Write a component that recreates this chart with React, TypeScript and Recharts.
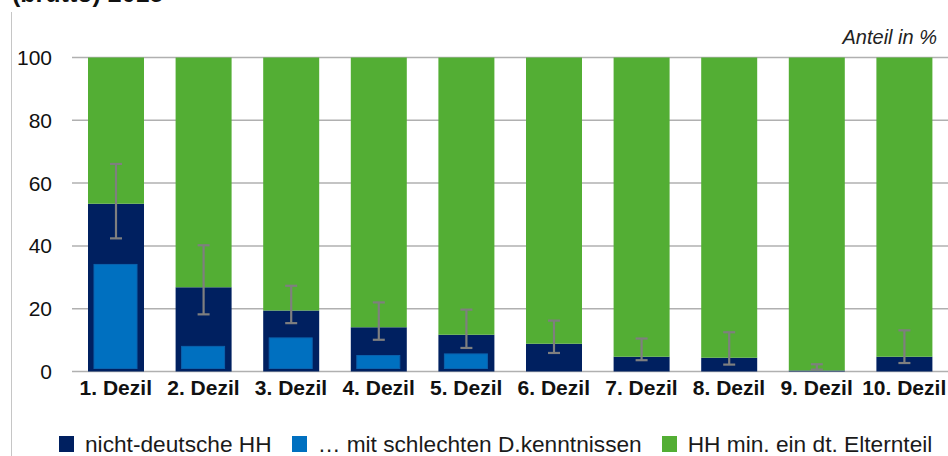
import React from 'react';
import { BarChart, Bar, XAxis, YAxis, CartesianGrid, ErrorBar, Legend } from 'recharts';

const categories = ['1. Dezil', '2. Dezil', '3. Dezil', '4. Dezil', '5. Dezil', '6. Dezil', '7. Dezil', '8. Dezil', '9. Dezil', '10. Dezil'];
const nonGerman = [53.4, 26.8, 19.4, 14.1, 11.7, 8.8, 4.7, 4.4, 0.3, 4.7];
const poorGerman = [34.1, 8.0, 10.7, 5.1, 5.6, 0, 0, 0, 0, 0];
const germanParent = [46.6, 73.2, 80.6, 85.9, 88.3, 91.2, 95.3, 95.6, 99.7, 95.3];
const ciLow = [42.4, 18.2, 15.4, 10.1, 7.5, 5.9, 3.6, 2.2, 0.6, 2.7];
const ciHigh = [66.1, 40.2, 27.3, 22.0, 19.7, 16.2, 10.5, 12.5, 2.3, 13.1];
const yTicks = [0, 20, 40, 60, 80, 100];

const legendItems = [
  { label: 'nicht-deutsche HH', color: '#002060' },
  { label: '… mit schlechten D.kenntnissen', color: '#0070C0' },
  { label: 'HH min. ein dt. Elternteil', color: '#53AE34' },
];

const titleText = '(brutto) 2015';
const unitText = 'Anteil in %';

const data = categories.map((cat, i) => ({
  cat,
  navy: nonGerman[i],
  light: poorGerman[i],
  green: germanParent[i],
  err: [nonGerman[i] - ciLow[i], ciHigh[i] - nonGerman[i]],
}));

const FONT = '"Liberation Sans", Arial, sans-serif';

const InnerBar = (p: any) => {
  const { x, y, width, height, fill } = p;
  const h = height - 3;
  if (!(h > 0)) return <g />;
  return <rect x={x} y={y} width={width} height={h} fill={fill} stroke="#0a62ad" strokeWidth={1} />;
};

const LegendContent = () => (
  <div
    style={{
      height: 32,
      boxSizing: 'border-box',
      paddingTop: 8,
      paddingLeft: 59,
      display: 'flex',
      alignItems: 'center',
      fontFamily: FONT,
      fontSize: 22.7,
      color: '#1a1a1a',
      whiteSpace: 'nowrap',
    }}
  >
    {legendItems.map((it) => (
      <div key={it.label} style={{ display: 'flex', alignItems: 'center', marginRight: 20 }}>
        <div style={{ width: 15, height: 16, background: it.color, marginRight: 11 }} />
        <span style={{ lineHeight: '24px' }}>{it.label}</span>
      </div>
    ))}
  </div>
);

export default function App() {
  return (
    <div style={{ position: 'absolute', left: 0, top: 0, width: 948, height: 456, background: '#fff', overflow: 'hidden' }}>
      <BarChart
        width={948}
        height={456}
        data={data}
        margin={{ top: 57.5, right: 0, left: 0, bottom: 0 }}
        barCategoryGap={0}
        barGap={0}
      >
        <CartesianGrid vertical={false} stroke="#b0b0b0" strokeWidth={1.5} />
        <XAxis
          dataKey="cat"
          height={52.5}
          tickSize={0}
          tickMargin={9}
          axisLine={false}
          tick={{ fill: '#111', fontSize: 21, fontWeight: 'bold', fontFamily: FONT }}
          interval={0}
        />
        <XAxis xAxisId="inner" dataKey="cat" hide />
        <XAxis xAxisId="err" dataKey="cat" hide />
        <YAxis
          width={72}
          domain={[0, 100]}
          ticks={yTicks}
          tickSize={0}
          tickMargin={20}
          axisLine={false}
          tick={{ fill: '#111', fontSize: 21, fontFamily: FONT }}
        />
        <Bar dataKey="navy" stackId="s" fill="#002060" barSize={56} isAnimationActive={false} />
        <Bar dataKey="green" stackId="s" fill="#53AE34" barSize={56} isAnimationActive={false} />
        <Bar dataKey="light" xAxisId="inner" fill="#0070C0" barSize={43} shape={<InnerBar />} isAnimationActive={false} />
        <Bar dataKey="navy" xAxisId="err" fill="transparent" barSize={56} isAnimationActive={false} legendType="none">
          <ErrorBar dataKey="err" width={6} stroke="#7f7f7f" strokeWidth={2.2} direction="y" />
        </Bar>
        <Legend verticalAlign="bottom" content={<LegendContent />} wrapperStyle={{ left: 0, width: 948 }} />
      </BarChart>
      <svg width={948} height={456} style={{ position: 'absolute', left: 0, top: 0, pointerEvents: 'none' }}>
        <line x1={11.5} y1={12} x2={11.5} y2={456} stroke="#c6c6c6" strokeWidth={1} />
        <text x={12} y={2} fontFamily={FONT} fontSize={25} fontWeight="bold" fill="#111">{titleText}</text>
        <text x={937} y={44} textAnchor="end" fontFamily={FONT} fontSize={20} fontStyle="italic" fill="#222">{unitText}</text>
      </svg>
    </div>
  );
}
